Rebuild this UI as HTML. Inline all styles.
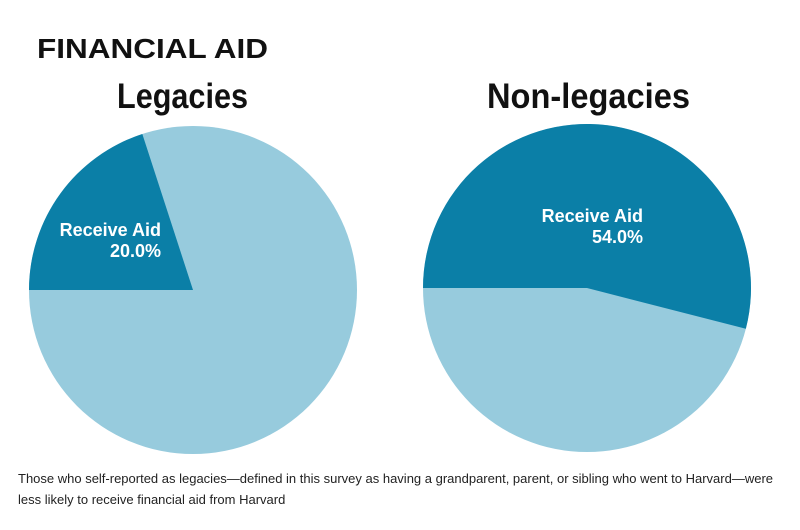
<!DOCTYPE html>
<html><head><meta charset="utf-8">
<style>
body{margin:0;background:#fff;width:800px;height:530px;overflow:hidden;font-family:"Liberation Sans",sans-serif;}
svg{display:block}
</style></head>
<body>
<svg width="800" height="530" id="chart">
<text x="37" y="58" font-size="28" font-weight="bold" fill="#111" textLength="231" lengthAdjust="spacingAndGlyphs">FINANCIAL AID</text>
<text x="117" y="108" font-size="35" font-weight="bold" fill="#111" textLength="131" lengthAdjust="spacingAndGlyphs">Legacies</text>
<text x="487" y="108" font-size="35" font-weight="bold" fill="#111" textLength="203" lengthAdjust="spacingAndGlyphs">Non-legacies</text>
<g id="pies"></g>
<text x="18" y="483" font-size="13" fill="#222" textLength="755" lengthAdjust="spacingAndGlyphs">Those who self-reported as legacies—defined in this survey as having a grandparent, parent, or sibling who went to Harvard—were</text>
<text x="18" y="504" font-size="13" fill="#222">less likely to receive financial aid from Harvard</text>
</svg>
<script>
const groups = ["Legacies", "Non-legacies"];
const receiveAid = [20.0, 54.0];
const labels = ["Receive Aid", "Receive Aid"];
const centersX = [193, 587];
const centersY = [290, 288];
const radius = 164;
const dark = "#0b7fa7", light = "#97cbdd";
const ns = "http://www.w3.org/2000/svg";
const g = document.getElementById("pies");
function pt(cx, cy, deg){
  const a = Math.PI + deg*Math.PI/180;
  return [cx + radius*Math.cos(a), cy + radius*Math.sin(a)];
}
groups.forEach((name, i) => {
  const cx = centersX[i], cy = centersY[i];
  const bg = document.createElementNS(ns, "circle");
  bg.setAttribute("cx", cx); bg.setAttribute("cy", cy); bg.setAttribute("r", radius);
  bg.setAttribute("fill", light);
  
  
  g.appendChild(bg);
  const sweep = receiveAid[i] / 100 * 360;
  const p0 = pt(cx, cy, 0), p1 = pt(cx, cy, sweep);
  const large = sweep > 180 ? 1 : 0;
  const path = document.createElementNS(ns, "path");
  path.setAttribute("d", `M${cx},${cy} L${p0[0]},${p0[1]} A${radius},${radius} 0 ${large} 1 ${p1[0]},${p1[1]} Z`);
  path.setAttribute("fill", dark);
  
  
  g.appendChild(path);
  const lx = i === 0 ? 161 : cx + 56;
  const ly = i === 0 ? cy - 54 : cy - 66;
  const t1 = document.createElementNS(ns, "text");
  t1.setAttribute("x", lx); t1.setAttribute("y", ly);
  t1.setAttribute("text-anchor", "end");
  t1.setAttribute("font-size", "18"); t1.setAttribute("font-weight", "bold"); t1.setAttribute("fill", "#fff");
  t1.textContent = labels[i];
  
  
  g.appendChild(t1);
  const t2 = document.createElementNS(ns, "text");
  t2.setAttribute("x", lx); t2.setAttribute("y", ly + 21);
  t2.setAttribute("text-anchor", "end");
  t2.setAttribute("font-size", "18"); t2.setAttribute("font-weight", "bold"); t2.setAttribute("fill", "#fff");
  t2.textContent = receiveAid[i].toFixed(1) + "%";
  
  
  g.appendChild(t2);
});
</script>
</body></html>
